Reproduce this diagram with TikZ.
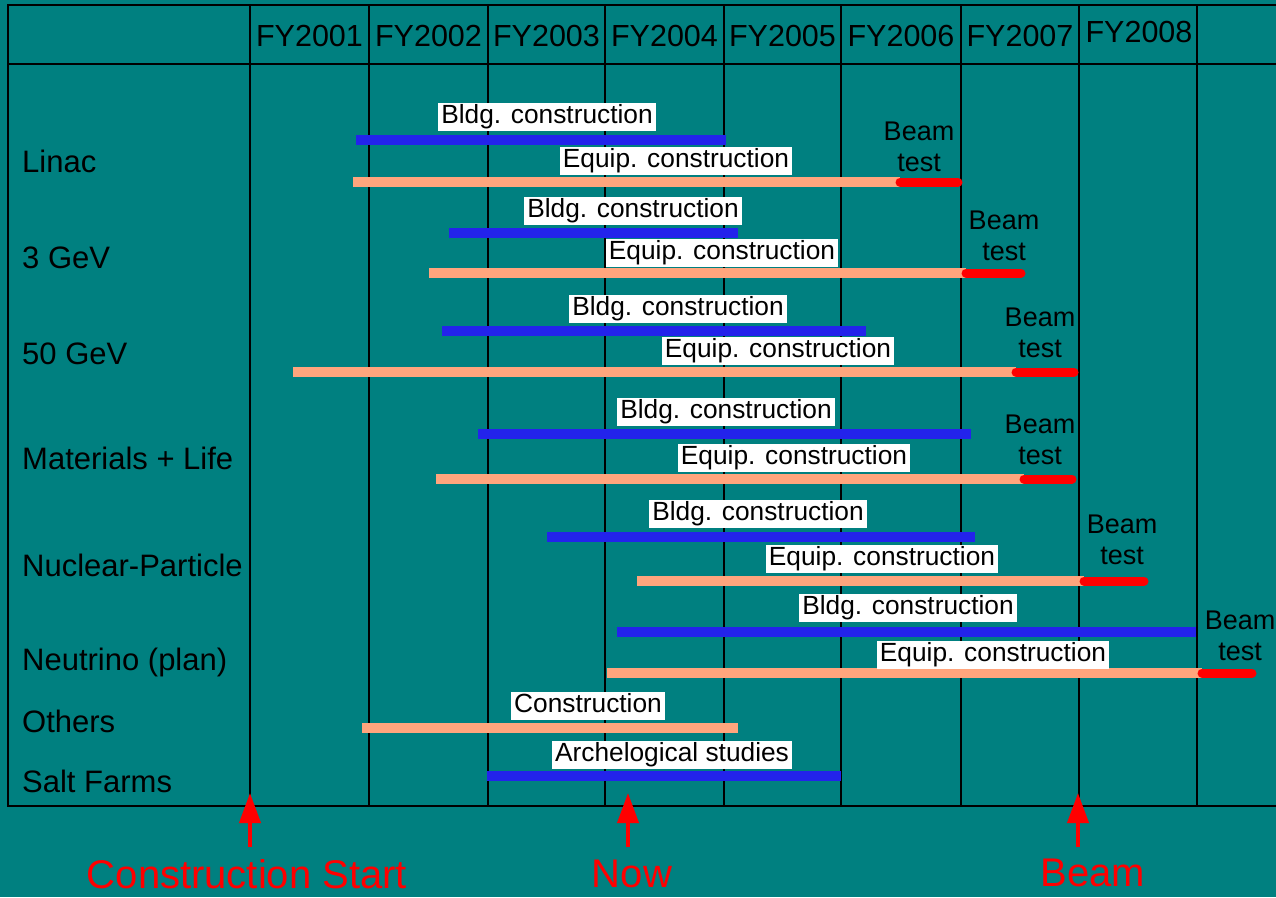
\documentclass[tikz,border=0pt]{standalone}
\usepackage{fontspec}
\setmainfont{Liberation Sans}
\usetikzlibrary{arrows.meta}
\definecolor{sheet}{RGB}{0,128,128}
\definecolor{bldgblue}{RGB}{35,35,235}
\definecolor{equiporange}{RGB}{255,165,125}
\tikzset{
  gridline/.style={line width=2pt, black},
  header/.style={font=\fontsize{30.5}{36}\selectfont, inner sep=0pt},
  rowlabel/.style={anchor=west, font=\fontsize{31}{36}\selectfont, inner sep=0pt},
  barlabel/.style={fill=white, font=\fontsize{26.3}{31}\selectfont, text height=19.5pt, text depth=6pt, inner xsep=3pt, inner ysep=1pt},
  beamlabel/.style={align=center, font=\fontsize{27}{31}\selectfont, inner sep=0pt},
  bldg/.style={line width=10pt, bldgblue},
  equip/.style={line width=10pt, equiporange},
  beamtest/.style={line width=9pt, red, line cap=round},
  marker/.style={line width=4pt, red, -{Triangle[length=30pt, width=21pt]}},
  markerlabel/.style={red, font=\fontsize{40}{46}\selectfont, inner sep=0pt}
}
\begin{document}
\begin{tikzpicture}[x=1pt, y=-1pt]
% page and table frame
\fill[sheet] (0,0) rectangle (1276,897);
\useasboundingbox (0,0) rectangle (1276,897);
\draw[gridline] (1276,5) -- (8,5) -- (8,806) -- (1276,806);
\draw[gridline] (8,64) -- (1276,64);
\foreach \x in {250,369,488,605,724,841,961,1079,1197}
  \draw[gridline] (\x,5) -- (\x,806);
\foreach \x/\t in {309.5/2001,428.5/2002,546.5/2003,664.5/2004,782.5/2005,901/2006,1020/2007}
  \node[header] (fy\t) at (\x,36) {FY\t};
\node[header] (fy2008) at (1139,32) {FY2008};
% rows
\node[rowlabel] (linac) at (22,161) {Linac};
\node[rowlabel] (gev3) at (22,258) {3 GeV};
\node[rowlabel] (gev50) at (22,354) {50 GeV};
\node[rowlabel] (matlife) at (22,458) {Materials + Life};
\node[rowlabel] (nucpart) at (22,565) {Nuclear-Particle};
\node[rowlabel] (neutrino) at (22,662) {Neutrino (plan)};
\node[rowlabel] (others) at (22,721) {Others};
\node[rowlabel] (saltfarms) at (22,781) {Salt Farms};
% bars
\foreach \y/\a/\b in {140/356/726,233/449/738,331/442/866,434/478/971,537/547/975,632/617/1196,776/487/841}
  \draw[bldg] (\a,\y) -- (\b,\y);
\foreach \y/\a/\b in {182/353/900,273/429/966,372/293/1016,479/436/1024,581/637/1084,673/607/1202,728/362/738}
  \draw[equip] (\a,\y) -- (\b,\y);
\foreach \y/\a/\b in {182/900/958,273/966/1021,372/1016/1074,479/1024/1072,581/1084/1144,673/1202/1252}
  \draw[beamtest] (\a,\y) -- (\b,\y);
% bar labels
\foreach \i/\x/\y in {1/547/117,2/633/211,3/678/309,4/726/412,5/758/514,6/908/608}
  \node[barlabel] (bldg\i) at (\x,\y) {Bldg. construction};
\foreach \i/\x/\y in {1/676/161,2/722/253,3/778/351,4/794/458,5/882/559,6/993/655}
  \node[barlabel] (equip\i) at (\x,\y) {Equip. construction};
\foreach \i/\x/\y in {1/919/147,2/1004/236,3/1040/333,4/1040/440,5/1122/540,6/1240/636}
  \node[beamlabel] (beam\i) at (\x,\y) {Beam\\test};
\node[barlabel] (constr) at (588,706) {Construction};
\node[barlabel] (archeo) at (672,755) {Archelogical studies};
% markers below the table
\node[markerlabel] (start) at (247,874) {Construction Start};
\node[markerlabel] (now) at (632,874) {Now};
\node[markerlabel] (beam) at (1093,873) {Beam};
\coordinate (start-tail) at (250,847);
\coordinate (start-tip) at (250,793);
\coordinate (now-tail) at (628,847);
\coordinate (now-tip) at (628,793);
\coordinate (beam-tail) at (1078,847);
\coordinate (beam-tip) at (1078,793);
\draw[marker] (start-tail) -- (start-tip);
\draw[marker] (now-tail) -- (now-tip);
\draw[marker] (beam-tail) -- (beam-tip);
\end{tikzpicture}
\end{document}
